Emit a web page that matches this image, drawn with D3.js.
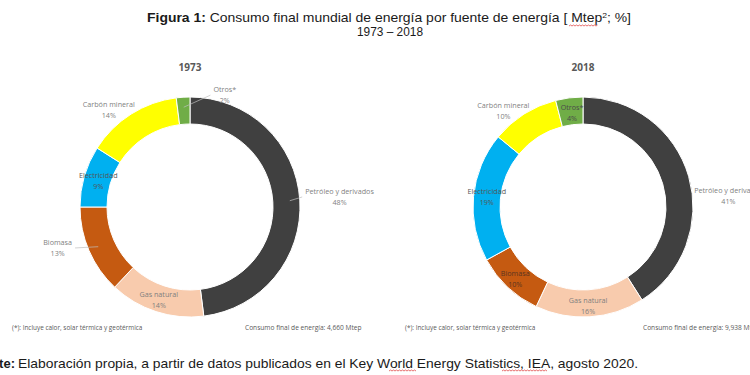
<!DOCTYPE html>
<html><head><meta charset="utf-8">
<script src="https://cdn.jsdelivr.net/npm/d3@7"></script>
<style>
body{margin:0;background:#fff;}
svg{display:block;}
</style></head>
<body>
<script>
// ---- data ----
const categories = ["Petróleo y derivados","Gas natural","Biomasa","Electricidad","Carbón mineral","Otros*"];
const values1973 = [48,14,13,9,14,2];
const values2018 = [41,16,10,19,10,4];
const years = ["1973","2018"];
const totals = ["4,660","9,938"];
const colors = ["#404040","#F8CBAD","#C55A11","#00B0F0","#FFFF00","#70AD47"];

const W=750,H=375;
const svg=d3.select("body").append("svg").attr("width",W).attr("height",H);

// title
const t1=svg.append("text").attr("x",389).attr("y",22).attr("text-anchor","middle")
  .attr("font-family","Liberation Sans, Arial, sans-serif").attr("font-size",13).attr("fill","#1a1a1a")
  .attr("textLength",484).attr("lengthAdjust","spacingAndGlyphs");
t1.append("tspan").attr("font-weight","bold").text("Figura 1:");
t1.append("tspan").text(" Consumo final mundial de energía por fuente de energía [ ");
t1.append("tspan").text("Mtep");
t1.append("tspan").attr("font-size",8).attr("dy",-4).text("2");
t1.append("tspan").attr("dy",4).text("; %]");
svg.append("text").attr("x",390).attr("y",36).attr("text-anchor","middle")
  .attr("font-family","Liberation Sans, Arial, sans-serif").attr("font-size",13).attr("fill","#1a1a1a")
  .attr("textLength",66).attr("lengthAdjust","spacingAndGlyphs").text("1973 – 2018");

function squiggle(x0,x1,y){
  let p=`M${x0},${y}`;let up=true;
  for(let x=x0+1.5;x<=x1;x+=1.5){p+=`L${x},${y+(up?-1:0)}`;up=!up;}
  svg.append("path").attr("d",p).attr("fill","none").attr("stroke","#d33").attr("stroke-width",0.7);
}
squiggle(569,598,26);

const pie=d3.pie().sort(null).value(d=>d);
const arc=d3.arc().innerRadius(83).outerRadius(110);

// label layout per chart: [radius, angle shift (deg)] for each slice
const layouts=[
  {cx:190,cy:207,lab:[[150,-1],[96,1],[138,7],[96,1],[128,-7],[119,20.6]],lead:[true,false,true,false,false,true],
   fill:["#7f7f7f","#7f7f7f","#7f7f7f","#555555","#7f7f7f","#7f7f7f"]},
  {cx:583,cy:207,lab:[[146,11.2],[97,0.6],[97.6,0.8],[97,1.6],[126,-6.8],[97,0.7]],lead:[false,false,false,false,false,false],
   fill:["#7f7f7f","#7f7f7f","#5a3420","#555555","#7f7f7f","#4a4a4a"]}
];
const allValues=[values1973,values2018];

allValues.forEach((vals,ci)=>{
  const L=layouts[ci];
  const g=svg.append("g").attr("transform",`translate(${L.cx},${L.cy})`);
  const arcs=pie(vals);
  g.selectAll("path.s").data(arcs).enter().append("path").attr("class","s")
    .attr("d",arc).attr("fill",(d,i)=>colors[i]).attr("stroke","#fff").attr("stroke-width",1);
  g.append("text").attr("x",0).attr("y",-136).attr("text-anchor","middle")
    .attr("font-family","Open Sans, sans-serif").attr("font-weight","bold").attr("font-size",10)
    .attr("fill","#595959").text(years[ci]);
  arcs.forEach((d,i)=>{
    const mid=(d.startAngle+d.endAngle)/2 + L.lab[i][1]*Math.PI/180;
    const r=L.lab[i][0];
    const x=r*Math.sin(mid), y=-r*Math.cos(mid);
    const tg=g.append("text").attr("text-anchor","middle").attr("font-family","Open Sans, sans-serif")
      .attr("font-size",7.2).attr("fill",L.fill[i]);
    const a=tg.append("tspan").attr("x",x).attr("y",y-1).text(categories[i]);
    tg.append("tspan").attr("x",x).attr("y",y+10).text(Math.round(d.value)+"%");
    if(L.lead[i]){
      const m0=(d.startAngle+d.endAngle)/2;
      const px=100*Math.sin(m0), py=-100*Math.cos(m0);
      const hw=a.node().getComputedTextLength()/2+3;
      const ex = px<x ? x-hw : x+hw;
      g.append("line").attr("x1",px).attr("y1",py).attr("x2",ex).attr("y2",y+2)
        .attr("stroke","#bfbfbf").attr("stroke-width",0.7);
    }
  });
  // footnotes
  svg.append("text").attr("x",L.cx-178).attr("y",330).attr("font-family","Open Sans, sans-serif")
    .attr("font-size",6.4).attr("fill","#595959").text("(*): Incluye calor, solar térmica y geotérmica");
  svg.append("text").attr("x",L.cx+55+(ci?5:0)).attr("y",330).attr("font-family","Open Sans, sans-serif")
    .attr("font-size",6.6).attr("fill","#595959").text("Consumo final de energía: "+totals[ci]+" Mtep");
});

// source
svg.append("text").attr("x",15).attr("y",368).attr("text-anchor","end")
  .attr("font-family","Liberation Sans, Arial, sans-serif").attr("font-size",13).attr("font-weight","bold")
  .attr("fill","#1a1a1a").text("Fuente:");
svg.append("text").attr("x",18).attr("y",368)
  .attr("font-family","Liberation Sans, Arial, sans-serif").attr("font-size",13).attr("fill","#1a1a1a")
  .attr("textLength",620).attr("lengthAdjust","spacingAndGlyphs")
  .text("Elaboración propia, a partir de datos publicados en el Key World Energy Statistics, IEA, agosto 2020.");
squiggle(389,417,371);
squiggle(502,548,371);
</script>
</body></html>
